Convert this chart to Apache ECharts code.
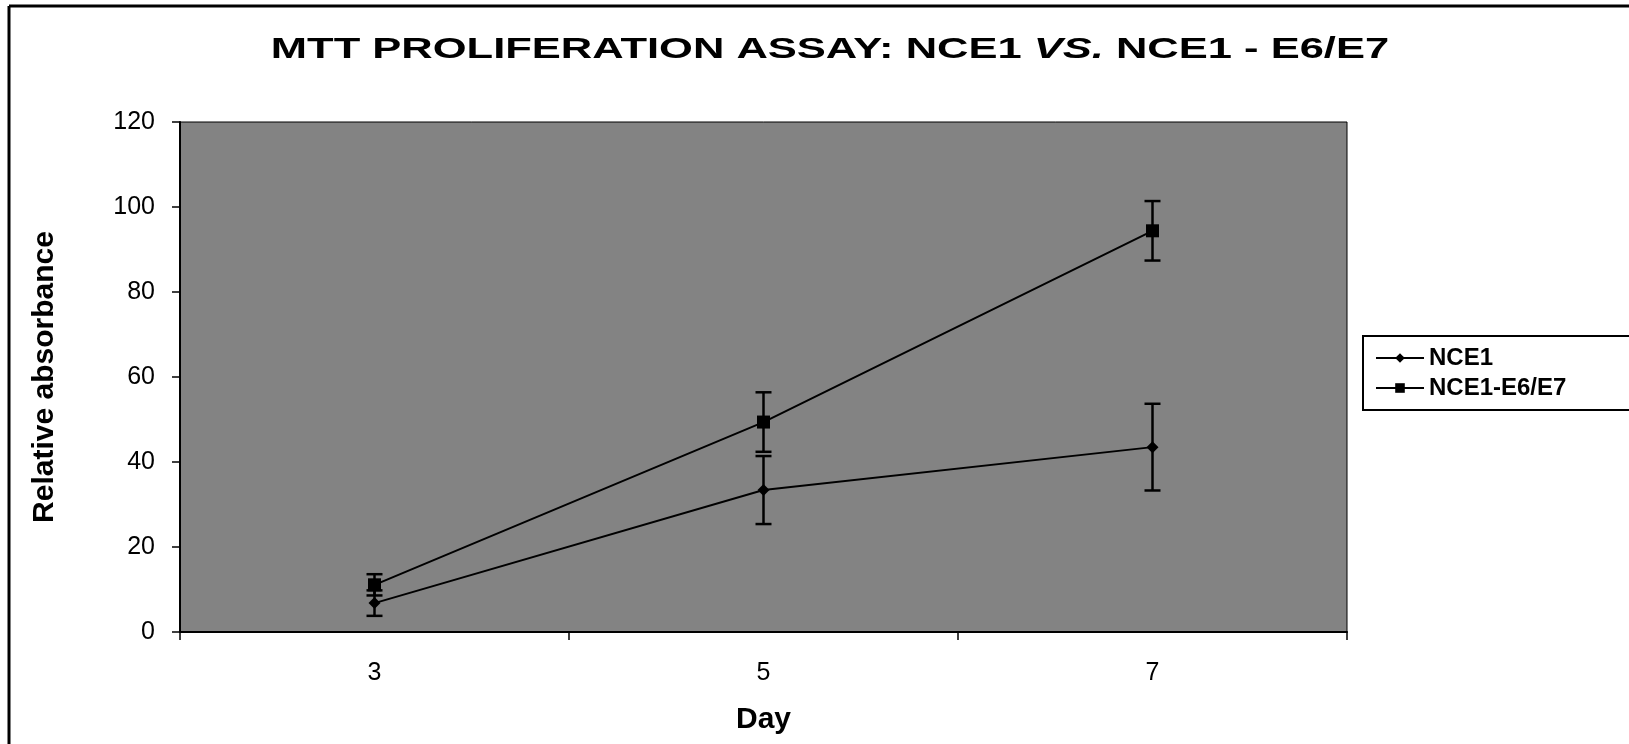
<!DOCTYPE html>
<html>
<head>
<meta charset="utf-8">
<script src="https://cdn.jsdelivr.net/npm/echarts@6/dist/echarts.min.js"></script>
<style>
html,body{margin:0;padding:0;background:#fff;}
#chart{width:1629px;height:744px;}
</style>
</head>
<body>
<div id="chart"></div>
<script>
// ---- data ----
var days = ['3', '5', '7'];
var nce1 = [6.8, 33.4, 43.5];
var nce1Err = [3, 8, 10.2];
var e6e7 = [11.1, 49.4, 94.4];
var e6e7Err = [2.5, 7, 7];
var yTicks = [0, 20, 40, 60, 80, 100, 120];

var FONT = 'Liberation Sans, Arial, sans-serif';

function errData(vals, errs) {
  return vals.map(function (v, i) { return [i, v, errs[i]]; });
}

function errRender(params, api) {
  var x = api.value(0), v = api.value(1), e = api.value(2);
  var top = api.coord([x, v + e]);
  var bot = api.coord([x, v - e]);
  var half = 8;
  var st = { stroke: '#000', lineWidth: 2.5 };
  return {
    type: 'group',
    children: [
      { type: 'line', shape: { x1: top[0], y1: top[1], x2: bot[0], y2: bot[1] }, style: st },
      { type: 'line', shape: { x1: top[0] - half, y1: top[1], x2: top[0] + half, y2: top[1] }, style: st },
      { type: 'line', shape: { x1: bot[0] - half, y1: bot[1], x2: bot[0] + half, y2: bot[1] }, style: st }
    ]
  };
}

var chart = echarts.init(document.getElementById('chart'));
chart.setOption({
  animation: false,
  backgroundColor: '#fff',
  graphic: [
    { type: 'line', shape: { x1: 9, y1: 6, x2: 1629, y2: 6 }, style: { stroke: '#000', lineWidth: 3 } },
    { type: 'line', shape: { x1: 9, y1: 6, x2: 9, y2: 744 }, style: { stroke: '#000', lineWidth: 3 } },
    {
      type: 'text', x: 830, y: 50, scaleX: 1.45,
      style: {
        text: '{n|MTT PROLIFERATION ASSAY: NCE1 }{i|VS.}{n| NCE1 - E6/E7}',
        align: 'center', verticalAlign: 'middle',
        rich: {
          n: { fontFamily: FONT, fontWeight: 'bold', fontSize: 30, fill: '#000' },
          i: { fontFamily: FONT, fontWeight: 'bold', fontStyle: 'italic', fontSize: 30, fill: '#000' }
        }
      }
    }
  ],
  legend: {
    data: ['NCE1', 'NCE1-E6/E7'],
    orient: 'vertical',
    left: 1363, top: 336,
    padding: [10, 80, 10, 12],
    itemGap: 6,
    itemWidth: 48, itemHeight: 12,
    borderColor: '#000', borderWidth: 2,
    backgroundColor: '#fff',
    textStyle: { fontFamily: FONT, fontWeight: 'bold', fontSize: 24, color: '#000' }
  },
  grid: {
    left: 180, right: 282, top: 122, bottom: 112,
    outerBoundsMode: 'none',
    show: true, backgroundColor: '#838383', borderColor: '#000', borderWidth: 1
  },
  xAxis: {
    type: 'category',
    data: days,
    boundaryGap: true,
    name: 'Day', nameLocation: 'middle', nameGap: 73,
    nameTextStyle: { fontFamily: FONT, fontWeight: 'bold', fontSize: 30, color: '#000' },
    axisLine: { lineStyle: { color: '#000', width: 2 } },
    axisTick: { show: true, length: 8, lineStyle: { color: '#000', width: 1.5 } },
    axisLabel: { margin: 29, fontFamily: FONT, fontSize: 25, color: '#000' },
    splitLine: { show: false }
  },
  yAxis: {
    type: 'value',
    min: yTicks[0], max: yTicks[yTicks.length - 1], interval: yTicks[1] - yTicks[0],
    name: 'Relative absorbance', nameLocation: 'middle', nameGap: 120,
    nameTextStyle: { fontFamily: FONT, fontWeight: 'bold', fontSize: 30, color: '#000' },
    axisLine: { show: true, lineStyle: { color: '#000', width: 2 } },
    axisTick: { show: true, length: 8, lineStyle: { color: '#000', width: 1.5 } },
    axisLabel: { margin: 25, fontFamily: FONT, fontSize: 25, color: '#000' },
    splitLine: { show: false }
  },
  series: [
    {
      name: 'NCE1 err', type: 'custom', renderItem: errRender,
      data: errData(nce1, nce1Err), z: 1, silent: true
    },
    {
      name: 'NCE1-E6/E7 err', type: 'custom', renderItem: errRender,
      data: errData(e6e7, e6e7Err), z: 1, silent: true
    },
    {
      name: 'NCE1', type: 'line', data: nce1, z: 3,
      symbol: 'diamond', symbolSize: 12,
      lineStyle: { color: '#000', width: 2 },
      itemStyle: { color: '#000' }
    },
    {
      name: 'NCE1-E6/E7', type: 'line', data: e6e7, z: 3,
      symbol: 'rect', symbolSize: 13,
      lineStyle: { color: '#000', width: 2 },
      itemStyle: { color: '#000' }
    }
  ]
});
</script>
</body>
</html>
